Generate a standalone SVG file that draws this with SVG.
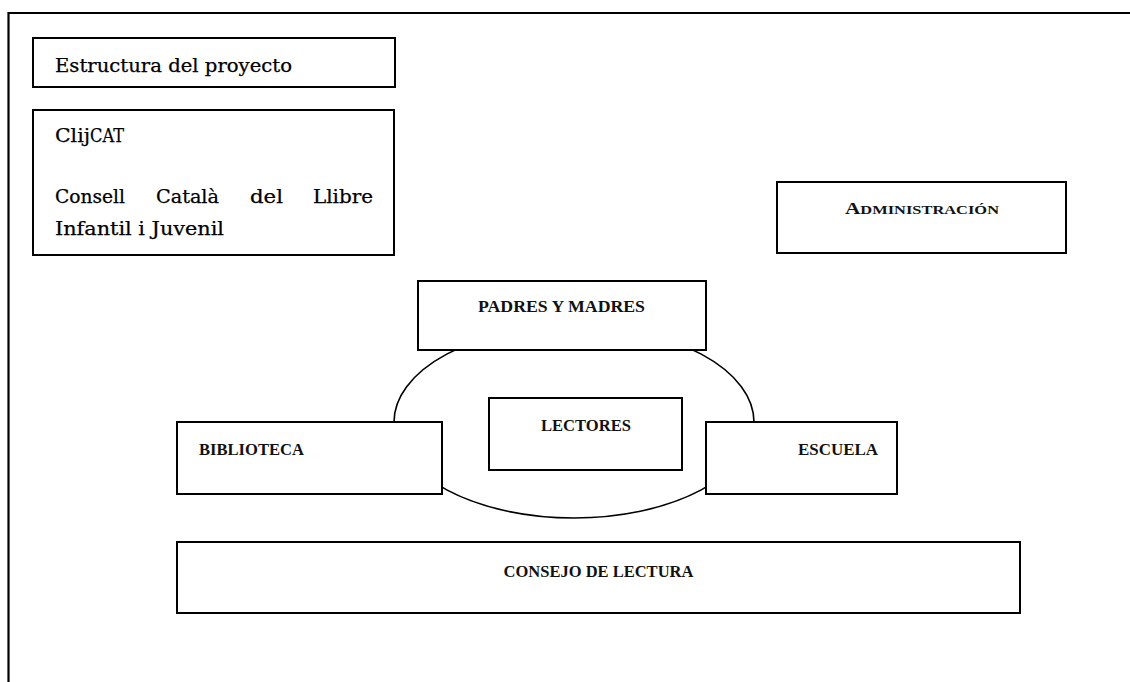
<svg xmlns="http://www.w3.org/2000/svg" width="1130" height="682" viewBox="0 0 1130 682">
<style>
.box{fill:#fff;stroke:#000;stroke-width:2}
.ring{fill:none;stroke:#000;stroke-width:1.6}
.frame{stroke:#000;stroke-width:2.2;fill:none}
.sch{font-family:"DejaVu Serif","Liberation Serif",serif;font-size:18px;fill:#000;stroke:#000;stroke-width:0.25}
.bl{font-family:"Liberation Serif","Times New Roman",serif;font-weight:bold;font-size:16.5px;fill:#111}
</style>
<rect width="1130" height="682" fill="#fff"/>
<g id="frame">
<path class="frame" d="M8.5,682 V13 H1130"/>
</g>
<g id="connectors">
<ellipse class="ring" cx="574" cy="422" rx="180" ry="96"/>
</g>
<g id="estructura">
<rect class="box" x="33" y="38" width="362" height="49"/>
<text class="sch" x="55" y="72" textLength="237" lengthAdjust="spacingAndGlyphs">Estructura del proyecto</text>
</g>
<g id="clijcat">
<rect class="box" x="33" y="110" width="361" height="145"/>
<text class="sch" x="55" y="142" textLength="35" lengthAdjust="spacingAndGlyphs">Clij</text>
<text class="sch" x="90" y="142" font-size="12.5" textLength="34" lengthAdjust="spacingAndGlyphs">CAT</text>
<text class="sch" x="55" y="203" textLength="70" lengthAdjust="spacingAndGlyphs">Consell</text>
<text class="sch" x="156" y="203" textLength="63" lengthAdjust="spacingAndGlyphs">Català</text>
<text class="sch" x="250" y="203" textLength="33" lengthAdjust="spacingAndGlyphs">del</text>
<text class="sch" x="313" y="203" textLength="60" lengthAdjust="spacingAndGlyphs">Llibre</text>
<text class="sch" x="55" y="235" textLength="169" lengthAdjust="spacingAndGlyphs">Infantil i Juvenil</text>
</g>
<g id="administracion">
<rect class="box" x="777" y="182" width="289" height="71"/>
<text class="bl" x="845" y="214" textLength="154" lengthAdjust="spacingAndGlyphs"><tspan font-size="17.5">A</tspan><tspan font-size="13.5">DMINISTRACIÓN</tspan></text>
</g>
<g id="padres">
<rect class="box" x="418" y="281" width="288" height="69"/>
<text class="bl" x="478" y="312" textLength="167" lengthAdjust="spacingAndGlyphs">PADRES Y MADRES</text>
</g>
<g id="lectores">
<rect class="box" x="489" y="398" width="193" height="72"/>
<text class="bl" x="541" y="431" textLength="90" lengthAdjust="spacingAndGlyphs">LECTORES</text>
</g>
<g id="biblioteca">
<rect class="box" x="177" y="422" width="265" height="72"/>
<text class="bl" x="199" y="455" textLength="105" lengthAdjust="spacingAndGlyphs">BIBLIOTECA</text>
</g>
<g id="escuela">
<rect class="box" x="706" y="422" width="191" height="72"/>
<text class="bl" x="798" y="455" textLength="80" lengthAdjust="spacingAndGlyphs">ESCUELA</text>
</g>
<g id="consejo">
<rect class="box" x="177" y="542" width="843" height="71"/>
<text class="bl" x="598.5" y="577" text-anchor="middle">CONSEJO DE LECTURA</text>
</g>
</svg>
